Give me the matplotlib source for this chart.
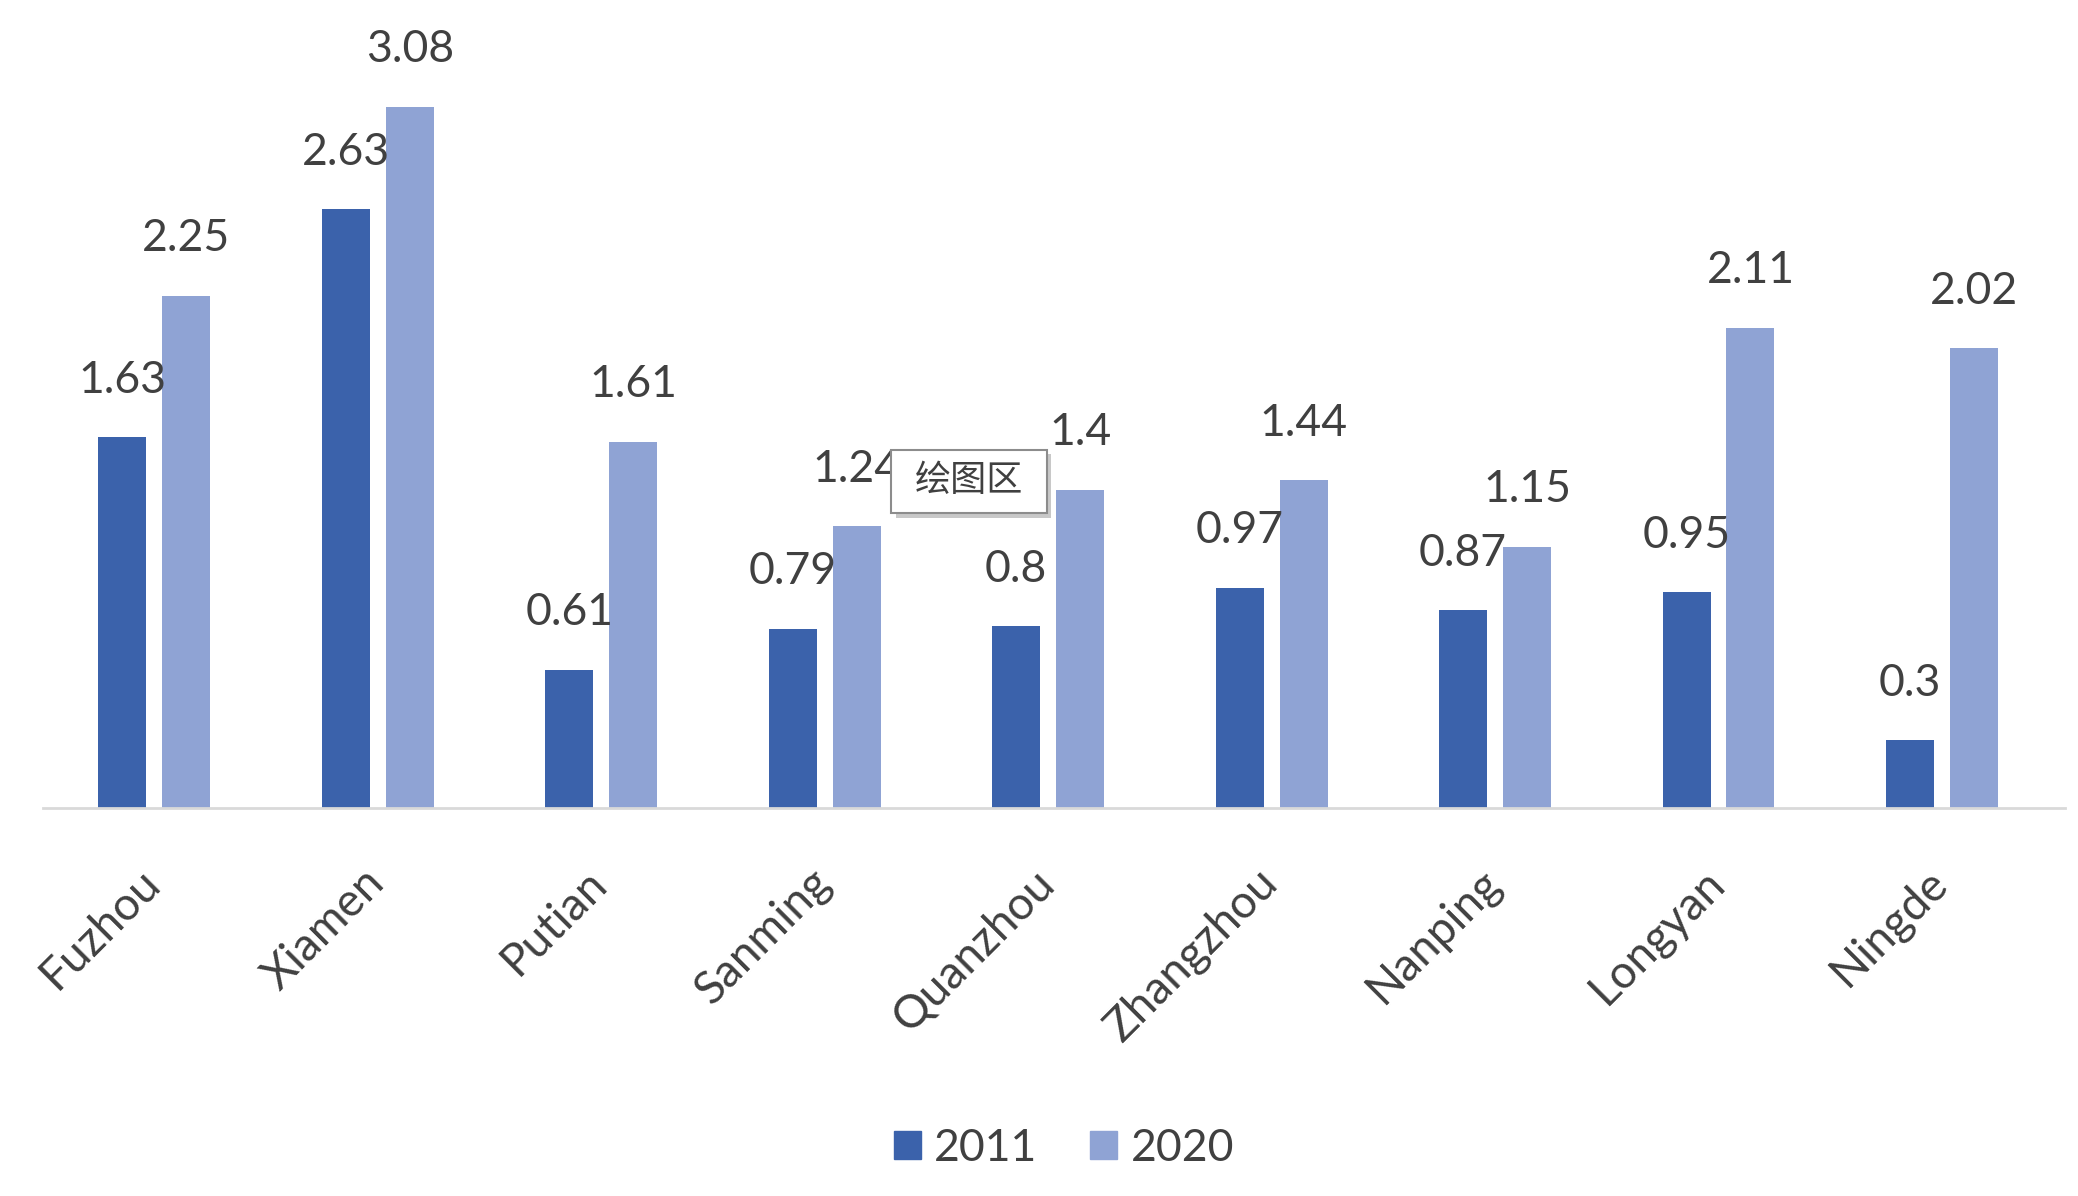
import matplotlib.pyplot as plt
import matplotlib.transforms as mtransforms
from matplotlib.patches import Patch, Rectangle
import numpy as np

cities = ["Fuzhou", "Xiamen", "Putian", "Sanming", "Quanzhou",
          "Zhangzhou", "Nanping", "Longyan", "Ningde"]
v2011 = [1.63, 2.63, 0.61, 0.79, 0.8, 0.97, 0.87, 0.95, 0.3]
v2020 = [2.25, 3.08, 1.61, 1.24, 1.4, 1.44, 1.15, 2.11, 2.02]

dark = "#3b62ab"
light = "#8fa3d4"
txt = "#404040"

plt.rcParams['font.family'] = ['Lato', 'DejaVu Sans']

fig = plt.figure(figsize=(20.78, 11.96), dpi=100)
ax = fig.add_axes([0.0205, 0.324, 0.9678, 0.6667])

x = np.arange(len(cities))
w = 0.215
b1 = ax.bar(x - 0.143, v2011, w, color=dark)
b2 = ax.bar(x + 0.143, v2020, w, color=light)

for bars, vals in ((b1, v2011), (b2, v2020)):
    for r, v in zip(bars, vals):
        ax.annotate(f"{v:g}", xy=(r.get_x() + r.get_width() / 2, v),
                    xytext=(0, 41), textcoords="offset points",
                    ha="center", va="center", fontsize=32, color=txt)

ax.set_xlim(-0.5, 8.5)
ax.set_ylim(0, 3.5)
ax.set_yticks([])
for s in ("top", "right", "left"):
    ax.spines[s].set_visible(False)
ax.spines["bottom"].set_color("#d9d9d9")
ax.spines["bottom"].set_linewidth(2)
ax.spines["bottom"].set_bounds(-0.5, 8.55)

ax.set_xticks(x)
ax.set_xticklabels(cities, rotation=45, ha="right", va="top",
                   fontsize=33, color=txt)
ax.tick_params(axis="x", length=0, pad=38)
shift = mtransforms.ScaledTranslation(0.14, 0, fig.dpi_scale_trans)
for lab in ax.get_xticklabels():
    lab.set_transform(lab.get_transform() + shift)

fig.legend(handles=[Patch(color=dark, label="2011"),
                    Patch(color=light, label="2020")],
           loc="center", bbox_to_anchor=(0.512, 0.04), ncol=2,
           frameon=False, fontsize=32, handlelength=0.6, handleheight=0.6,
           handletextpad=0.3, columnspacing=1.2, labelcolor=txt)

# tooltip overlay "绘图区"
fig.patches.append(Rectangle((0.431, 0.567), 0.075, 0.053,
                             transform=fig.transFigure, facecolor="#c8c8c8",
                             edgecolor="none", zorder=10))
fig.patches.append(Rectangle((0.429, 0.571), 0.075, 0.053,
                             transform=fig.transFigure, facecolor="white",
                             edgecolor="#8c8c8c", linewidth=1.5, zorder=11))
fig.text(0.4665, 0.598, "绘图区", ha="center", va="center", fontsize=26,
         color=txt, family=["Noto Sans CJK SC", "DejaVu Sans"], zorder=12)

fig.savefig("out.png", dpi=100)
